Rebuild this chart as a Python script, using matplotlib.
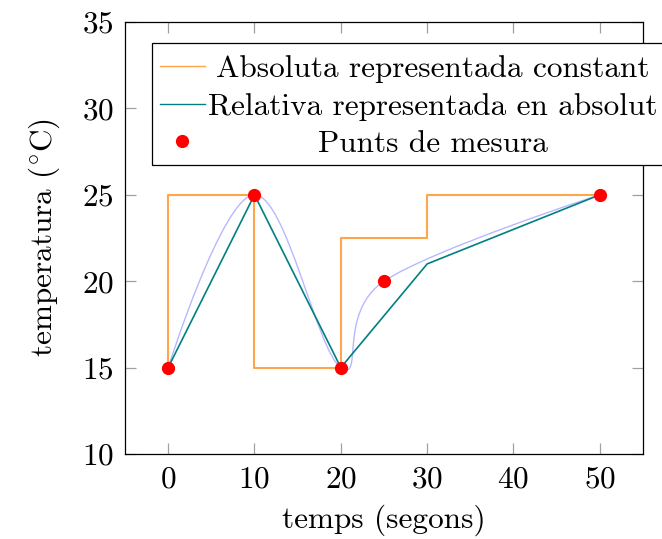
import matplotlib
matplotlib.use('Agg')
import matplotlib.pyplot as plt
from matplotlib.path import Path
from matplotlib.patches import PathPatch, Rectangle
from matplotlib.lines import Line2D

# ------------- Data ------------- #
# measured points
t_mesura = [0, 10, 20, 25, 50]
T_mesura = [15, 25, 15, 20, 25]

# absolute value held constant (step plot)
t_abs = [0, 0, 10, 20, 30, 50]
T_abs = [15, 25, 15, 22.5, 25, 25]

# relative values drawn as absolute
t_rel = [0, 10, 20, 30, 50]
T_rel = [15, 25, 15, 21, 25]

xticks = [0, 10, 20, 30, 40, 50]
yticks = [10, 15, 20, 25, 30, 35]

c_abs = '#ffa64d'
c_rel = '#008080'
c_smooth = '#b8b8ff'
c_pts = '#ff0000'

# ------------- Plot Setup ------------- #
plt.rcParams['font.family'] = 'cmr10'
plt.rcParams['mathtext.fontset'] = 'cm'
plt.rcParams['axes.formatter.use_mathtext'] = True
fs = 22.5

fig = plt.figure(figsize=(6.62, 5.39), dpi=100)
ax = fig.add_axes([0.1888, 0.1577, 0.7825, 0.8015])
ax.set_xlim(-5, 55)
ax.set_ylim(10, 35)
ax.set_xticks(xticks)
ax.set_yticks(yticks)
ax.tick_params(direction='in', length=8, width=0.9, color='#a0a0a0',
               top=True, right=True, labelsize=fs, pad=8)
for s in ax.spines.values():
    s.set_linewidth(0.9)
ax.set_xlabel('temps (segons)', fontsize=fs, labelpad=8)
ax.set_ylabel(r'temperatura ($^{\circ}$C)', fontsize=fs, labelpad=14)

# smooth curve through measured points (bezier, tension 0.55)
tens = 0.55 / 3
pts = list(zip(t_mesura, T_mesura))
verts = [pts[0]]
codes = [Path.MOVETO]
for i in range(len(pts) - 1):
    p0 = pts[i]
    p1 = pts[i + 1]
    if i == 0:
        c1 = p0
    else:
        pp = pts[i - 1]
        c1 = (p0[0] + tens * (p1[0] - pp[0]), p0[1] + tens * (p1[1] - pp[1]))
    if i + 2 >= len(pts):
        c2 = p1
    else:
        pn = pts[i + 2]
        c2 = (p1[0] - tens * (pn[0] - p0[0]), p1[1] - tens * (pn[1] - p0[1]))
    verts += [c1, c2, p1]
    codes += [Path.CURVE4] * 3
ax.add_patch(PathPatch(Path(verts, codes), facecolor='none', edgecolor=c_smooth,
                       linewidth=1.0, zorder=2))

ax.plot(t_abs, T_abs, drawstyle='steps-post', color=c_abs, linewidth=1.5, zorder=3)
ax.plot(t_rel, T_rel, color=c_rel, linewidth=1.2, zorder=4)
ax.plot(t_mesura, T_mesura, 'o', color=c_pts, markersize=8.5, zorder=5)

# ------------- Legend (pgfplots style, centred text) ------------- #
lx0, ly1, ly0 = 0.052, 0.951, 0.669
ax.add_patch(Rectangle((lx0, ly0), 1.2, ly1 - ly0, transform=ax.transAxes,
                       facecolor='white', edgecolor='black', linewidth=0.9,
                       clip_on=False, zorder=10))
rows = [0.898, 0.810, 0.724]
labels = ['Absoluta representada constant', 'Relativa representada en absolut', 'Punts de mesura']
hx0, hx1, tx = 0.068, 0.154, 0.595
ax.add_line(Line2D([hx0, hx1], [rows[0]] * 2, transform=ax.transAxes, color=c_abs,
                   linewidth=1.0, clip_on=False, zorder=11))
ax.add_line(Line2D([hx0, hx1], [rows[1]] * 2, transform=ax.transAxes, color=c_rel,
                   linewidth=1.0, clip_on=False, zorder=11))
ax.add_line(Line2D([(hx0 + hx1) / 2], [rows[2]], transform=ax.transAxes, marker='o',
                   color=c_pts, markersize=8.5, linestyle='none', clip_on=False, zorder=11))
for r, lab in zip(rows, labels):
    ax.text(tx, r, lab, transform=ax.transAxes, ha='center', va='center_baseline',
            fontsize=fs, zorder=12)

plt.savefig('out.png', dpi=100)
